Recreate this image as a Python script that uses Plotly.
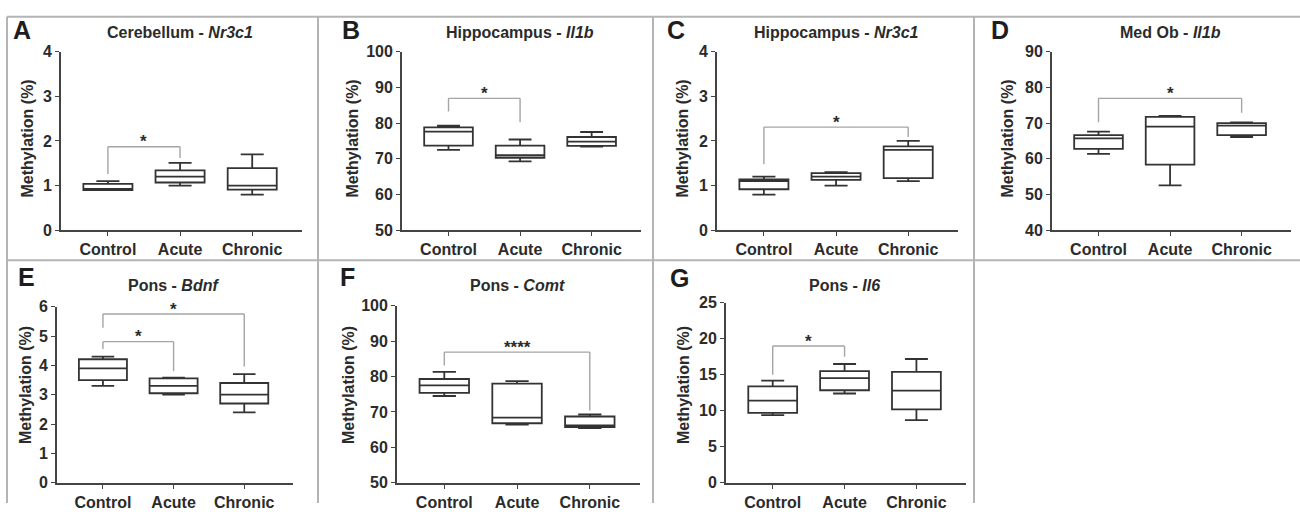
import plotly.graph_objects as go

W, H = 1300, 512
categories = ["Control", "Acute", "Chronic"]

# ---- data ----
panel_letters = ["A", "B", "C", "D", "E", "F", "G"]
panel_regions = ["Cerebellum", "Hippocampus", "Hippocampus", "Med Ob", "Pons", "Pons", "Pons"]
panel_genes = ["Nr3c1", "Il1b", "Nr3c1", "Il1b", "Bdnf", "Comt", "Il6"]

a_lower = [0.90, 1.00, 0.80]; a_q1 = [0.90, 1.07, 0.91]; a_med = [0.93, 1.20, 1.00]; a_q3 = [1.04, 1.34, 1.39]; a_upper = [1.10, 1.51, 1.70]
b_lower = [72.5, 69.3, 73.4]; b_q1 = [73.7, 70.3, 73.6]; b_med = [77.6, 71.0, 74.8]; b_q3 = [78.8, 73.7, 76.1]; b_upper = [79.3, 75.4, 77.5]
c_lower = [0.80, 1.00, 1.10]; c_q1 = [0.92, 1.13, 1.17]; c_med = [1.10, 1.20, 1.80]; c_q3 = [1.14, 1.28, 1.88]; c_upper = [1.20, 1.30, 2.00]
d_lower = [61.4, 52.6, 66.1]; d_q1 = [62.8, 58.4, 66.6]; d_med = [65.7, 69.0, 69.3]; d_q3 = [66.6, 71.7, 70.0]; d_upper = [67.6, 72.0, 70.2]
e_lower = [3.30, 3.00, 2.40]; e_q1 = [3.50, 3.05, 2.70]; e_med = [3.90, 3.30, 3.00]; e_q3 = [4.21, 3.56, 3.40]; e_upper = [4.30, 3.58, 3.70]
f_lower = [74.5, 66.4, 65.4]; f_q1 = [75.4, 66.8, 65.7]; f_med = [77.5, 68.4, 66.2]; f_q3 = [79.3, 78.0, 68.7]; f_upper = [81.3, 78.7, 69.3]
g_lower = [9.4, 12.4, 8.7]; g_q1 = [9.7, 12.85, 10.2]; g_med = [11.4, 14.55, 12.8]; g_q3 = [13.4, 15.5, 15.4]; g_upper = [14.2, 16.5, 17.2]

a_ticks = [0, 1, 2, 3, 4]
b_ticks = [50, 60, 70, 80, 90, 100]
c_ticks = [0, 1, 2, 3, 4]
d_ticks = [40, 50, 60, 70, 80, 90]
e_ticks = [0, 1, 2, 3, 4, 5, 6]
f_ticks = [50, 60, 70, 80, 90, 100]
g_ticks = [0, 5, 10, 15, 20, 25]

# significance brackets: (from index, to index, height, left leg end, right leg end, label)
a_sig = [(0, 1, 1.87, 1.26, 1.62, "*")]
b_sig = [(0, 1, 86.9, 83.2, 80.2, "*")]
c_sig = [(0, 2, 2.31, 1.48, 2.09, "*")]
d_sig = [(0, 2, 76.9, 70.2, 72.9, "*")]
e_sig = [(0, 2, 5.75, 5.28, 3.96, "*"), (0, 1, 4.81, 4.56, 3.80, "*")]
f_sig = [(0, 2, 86.9, 83.1, 70.4, "****")]
g_sig = [(0, 1, 19.0, 15.0, 17.5, "*")]

stats = [
    (a_lower, a_q1, a_med, a_q3, a_upper, a_ticks, a_sig),
    (b_lower, b_q1, b_med, b_q3, b_upper, b_ticks, b_sig),
    (c_lower, c_q1, c_med, c_q3, c_upper, c_ticks, c_sig),
    (d_lower, d_q1, d_med, d_q3, d_upper, d_ticks, d_sig),
    (e_lower, e_q1, e_med, e_q3, e_upper, e_ticks, e_sig),
    (f_lower, f_q1, f_med, f_q3, f_upper, f_ticks, f_sig),
    (g_lower, g_q1, g_med, g_q3, g_upper, g_ticks, g_sig),
]

# ---- layout geometry (pixels) ----
areas = [
    (61, 302, 45, 230),
    (402, 641, 45, 230),
    (717, 958, 45, 230),
    (1052, 1291, 45, 230),
    (57, 293, 309, 491),
    (397, 640, 308, 491),
    (726, 966, 305, 491),
]
letter_pos = [(22, 23), (351, 23), (676, 23), (1000, 23), (26, 278), (347, 278), (679, 279)]
title_y = [25, 25, 25, 25, 287, 287, 287]
ytitle_x = [28, 353, 683, 1008, 25, 348, 683]
ytitle_y = [135, 135, 135, 135, 390, 390, 390]

FONT = "Liberation Sans, Arial, sans-serif"
TXT = "#2b2b2b"
AX = "#444444"
BOX = "#333333"
BR = "#a5a5a5"
BORDER = "#b4b4b4"


def px(x):
    return x / W


def py(y):
    return 1 - y / H


fig = go.Figure()
layout = dict(
    width=W, height=H, margin=dict(l=0, r=0, t=0, b=0),
    paper_bgcolor="white", plot_bgcolor="white",
    showlegend=False, font=dict(family=FONT, color=TXT),
)
annotations = []
shapes = []

for i, (lo, q1, md, q3, up, ticks, sig) in enumerate(stats):
    n = "" if i == 0 else str(i + 1)
    xa, ya = "x" + n, "y" + n
    l, r, t, b = areas[i]
    fig.add_trace(go.Box(
        x=categories, q1=q1, median=md, q3=q3, lowerfence=lo, upperfence=up,
        xaxis=xa, yaxis=ya, boxpoints=False, width=0.68, whiskerwidth=0.47,
        line=dict(color=BOX, width=1.8), fillcolor="white", hoverinfo="skip",
    ))
    layout["xaxis" + n] = dict(
        domain=[px(l), px(r)], anchor=ya, type="category",
        categoryorder="array", categoryarray=categories,
        range=[-0.65, 2.69], showline=True, linecolor=AX, linewidth=1.8,
        ticks="outside", ticklen=4, tickwidth=1.2, tickcolor=AX,
        showgrid=False, zeroline=False,
        tickfont=dict(family=FONT, size=16, color=TXT, weight="bold"),
    )
    layout["yaxis" + n] = dict(
        domain=[py(b), py(t)], anchor=xa,
        range=[ticks[0], ticks[-1]], tickvals=ticks,
        showline=True, linecolor=AX, linewidth=1.8,
        ticks="outside", ticklen=4, tickwidth=1.2, tickcolor=AX,
        showgrid=False, zeroline=False,
        tickfont=dict(family=FONT, size=16, color=TXT, weight="bold"),
    )
    lx, ly = letter_pos[i]
    annotations.append(dict(
        text="<b>%s</b>" % panel_letters[i], x=px(lx), y=py(ly), xref="paper", yref="paper",
        xanchor="center", yanchor="middle", showarrow=False,
        font=dict(family=FONT, size=25, color="#1e1e1e"),
    ))
    annotations.append(dict(
        text="<b>%s - <i>%s</i></b>" % (panel_regions[i], panel_genes[i]),
        x=1, y=py(title_y[i]), xref=xa, yref="paper",
        xanchor="center", yanchor="middle", showarrow=False,
        font=dict(family=FONT, size=16, color=TXT),
    ))
    annotations.append(dict(
        text="<b>Methylation (%)</b>", x=px(ytitle_x[i]), y=py(ytitle_y[i]),
        xref="paper", yref="paper", textangle=-90,
        xanchor="center", yanchor="middle", showarrow=False,
        font=dict(family=FONT, size=16, color=TXT),
    ))
    for (c0, c1, hgt, leg0, leg1, lab) in sig:
        for (xx0, yy0, xx1, yy1) in [(c0, leg0, c0, hgt), (c0, hgt, c1, hgt), (c1, hgt, c1, leg1)]:
            shapes.append(dict(type="line", xref=xa, yref=ya, x0=xx0, y0=yy0, x1=xx1, y1=yy1,
                               line=dict(color=BR, width=1.4)))
        annotations.append(dict(
            text="<b>%s</b>" % lab, x=(c0 + c1) / 2, y=hgt, xref=xa, yref=ya,
            xanchor="center", yanchor="middle", yshift=5, showarrow=False,
            font=dict(family=FONT, size=17, color=TXT),
        ))

frame_lines = [
    (7, 9, 1300, 9),
    (7, 261, 1300, 261),
    (7, 9, 7, 512),
    (318, 9, 318, 512),
    (653, 9, 653, 512),
    (974, 9, 974, 512),
]
for (x0, y0, x1, y1) in frame_lines:
    shapes.append(dict(type="line", xref="paper", yref="paper",
                       x0=px(x0), y0=py(y0), x1=px(x1), y1=py(y1),
                       line=dict(color=BORDER, width=2)))

layout["annotations"] = annotations
layout["shapes"] = shapes
fig.update_layout(**layout)
fig.write_html(
    "out.html",
    post_script="document.body.style.margin='0';document.body.style.padding='0';"
                "document.documentElement.style.overflow='hidden';",
)
